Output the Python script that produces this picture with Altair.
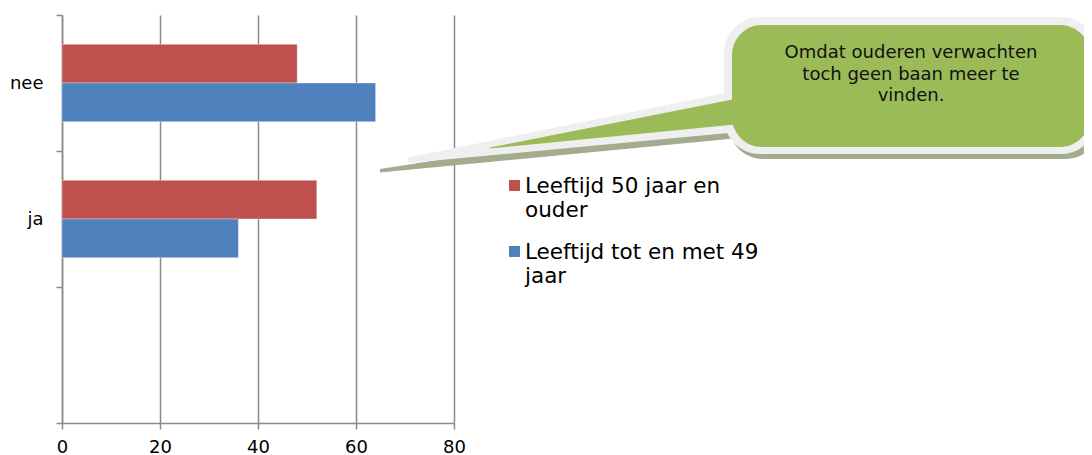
import altair as alt
import pandas as pd

# ---- data ----
categories = ["nee", "ja", ""]
series = ["Leeftijd 50 jaar en ouder", "Leeftijd tot en met 49 jaar"]
series_lines = [["Leeftijd 50 jaar en", "ouder"], ["Leeftijd tot en met 49", "jaar"]]
colors = ["#C0504D", "#4F81BD"]
values_50plus = [48, 52]
values_tot49 = [64, 36]
x_ticks = [0, 20, 40, 60, 80]
callout_lines = ["Omdat ouderen verwachten", "toch geen baan meer te", "vinden."]

rows = []
for i, cat in enumerate(categories[:2]):
    rows.append({"cat": cat, "series": series[0], "value": values_50plus[i]})
    rows.append({"cat": cat, "series": series[1], "value": values_tot49[i]})
df = pd.DataFrame(rows)

W, H = 392, 408
X0, Y0 = 62, 15  # page position of plot origin
GRID = "#8a8a8a"
FONT = "DejaVu Sans"

bars = alt.Chart(df).mark_bar(stroke="white", strokeOpacity=0.35, strokeWidth=1).encode(
    x=alt.X(
        "value:Q",
        scale=alt.Scale(domain=[0, 80], nice=False, zero=True),
        axis=alt.Axis(
            values=x_ticks, title=None, grid=True, gridColor=GRID, gridWidth=1.5,
            domainColor=GRID, domainWidth=1.5, tickColor=GRID, tickWidth=1.5,
            tickSize=6, labelFontSize=18, labelFont=FONT, labelColor="#000",
            labelPadding=9, labelFlush=False,
        ),
    ),
    y=alt.Y(
        "cat:N",
        scale=alt.Scale(domain=categories, paddingInner=0, paddingOuter=0),
        axis=alt.Axis(
            title=None, tickBand="extent", domainColor=GRID, domainWidth=1.5,
            tickColor=GRID, tickWidth=1.5, tickSize=6, labelFontSize=18,
            labelFont=FONT, labelColor="#000", labelPadding=13, grid=False,
        ),
    ),
    yOffset=alt.YOffset(
        "series:N", scale=alt.Scale(domain=series, paddingInner=0, paddingOuter=0.759)
    ),
    color=alt.Color("series:N", scale=alt.Scale(domain=series, range=colors), legend=None),
)

# ---- pixel scales for annotations (page pixel geometry) ----
px_x = alt.Scale(domain=[X0, X0 + W], nice=False, zero=False)
px_y = alt.Scale(domain=[Y0, Y0 + H], nice=False, zero=False, reverse=True)

# ---- legend (drawn from the series arrays) ----
LEG_SQ_X, LEG_SQ_Y, LEG_STEP = 514.5, 185.5, 66
LEG_TX, LEG_TY = 525, 193
leg = pd.DataFrame({
    "series": series,
    "label": ["\n".join(l) for l in series_lines],
    "color": colors,
    "sx": [LEG_SQ_X] * len(series),
    "sy": [LEG_SQ_Y + LEG_STEP * i for i in range(len(series))],
    "tx": [LEG_TX] * len(series),
    "ty": [LEG_TY + LEG_STEP * i for i in range(len(series))],
})
leg_sq = alt.Chart(leg).mark_square(size=121, opacity=1, filled=True).encode(
    x=alt.X("sx:Q", scale=px_x, axis=None),
    y=alt.Y("sy:Q", scale=px_y, axis=None),
    color=alt.Color("color:N", scale=None),
)
leg_txt = alt.Chart(leg).mark_text(
    font=FONT, fontSize=21.5, color="#000", align="left", baseline="alphabetic",
    lineBreak="\n", lineHeight=24,
).encode(
    x=alt.X("tx:Q", scale=px_x, axis=None),
    y=alt.Y("ty:Q", scale=px_y, axis=None),
    text="label:N",
)


def rect_layer(x1, x2, y1, y2, r, color):
    d = pd.DataFrame({"x": [x1], "x2": [x2], "y": [y1], "y2": [y2]})
    return alt.Chart(d).mark_rect(cornerRadius=r, color=color).encode(
        x=alt.X("x:Q", scale=px_x, axis=None), x2="x2:Q",
        y=alt.Y("y:Q", scale=px_y, axis=None), y2="y2:Q",
    )


def tri_layer(tip, tip_y1, tip_y2, base_x, base_y1, base_y2, color):
    d = pd.DataFrame({"x": [tip, base_x], "y": [tip_y1, base_y1], "y2": [tip_y2, base_y2]})
    return alt.Chart(d).mark_area(color=color, orient="vertical", interpolate="linear").encode(
        x=alt.X("x:Q", scale=px_x, axis=None),
        y=alt.Y("y:Q", scale=px_y, axis=None), y2="y2:Q",
    )


SHADOW = "#a4ac8d"
LIGHT = "#efefef"
GREEN = "#9BBB59"

callout = [
    tri_layer(380, 169, 172.5, 760, 110, 136, SHADOW),
    rect_layer(729, 1100, 22, 159, 34, SHADOW),
    tri_layer(408, 157.5, 163, 760, 86, 130, LIGHT),
    rect_layer(724, 1097, 17, 154, 36, LIGHT),
    tri_layer(490, 147.5, 148.5, 745, 97, 123.5, GREEN),
    rect_layer(732, 1090, 25, 147, 30, GREEN),
]

text = alt.Chart(pd.DataFrame({"t": ["\n".join(callout_lines)]})).mark_text(
    font=FONT, fontSize=18, color="#111", align="center", baseline="alphabetic",
    lineBreak="\n", lineHeight=21.7,
).encode(
    text="t:N",
    x=alt.value(911 - X0),
    y=alt.value(58 - Y0),
)

chart = alt.layer(bars, *callout, text, leg_sq, leg_txt).resolve_scale(
    x="independent", y="independent", color="independent"
).properties(
    width=W, height=H,
    autosize=alt.AutoSizeParams(type="none"),
    padding={"left": 54, "top": 7, "right": 630, "bottom": 32},
    background="white",
).configure_view(stroke=None)

chart.save("out.html", embed_options={"renderer": "svg", "actions": False})
